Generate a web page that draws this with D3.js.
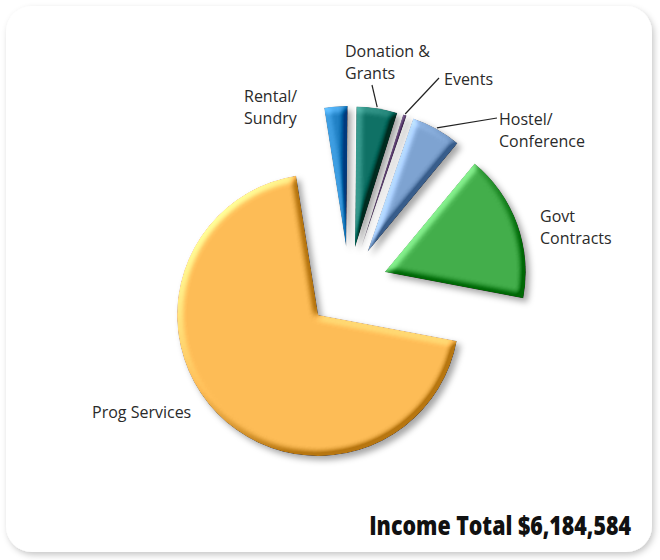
<!DOCTYPE html>
<html>
<head>
<meta charset="utf-8">
<script src="https://cdn.jsdelivr.net/npm/d3@7"></script>
<style>
    body { margin: 0; background: #fff; }
    text { font-family: "Open Sans", "Noto Sans", sans-serif; }
</style>
</head>
<body>
<div id="chart"></div>
<script>
// income by source, clockwise from 12 o'clock
const categories = ["Donation & Grants", "Events", "Hostel/Conference", "Govt Contracts", "Prog Services", "Rental/Sundry"];
const values = [290000, 25000, 355000, 1050000, 4300000, 164584];
const labelLines = [["Donation &", "Grants"], ["Events"], ["Hostel/", "Conference"], ["Govt", "Contracts"], ["Prog Services"], ["Rental/", "Sundry"]];
const totalText = "Income Total $6,184,584";

const colors = ["#0f7165", "#5a3d6e", "#7ea3d1", "#43ae4b", "#fdbc56", "#2080c4"];

// label anchor (x, first baseline), leader end, and slice explode distance
const layout = [
    { x: 345, y: 57, leader: [372, 85], explode: 38 },
    { x: 444, y: 85, leader: [439, 78], explode: 38 },
    { x: 499, y: 125, leader: [497, 118], explode: 38 },
    { x: 540, y: 222, leader: null, explode: 38 },
    { x: 92, y: 418, leader: null, explode: 43 },
    { x: 244, y: 102, leader: null, explode: 38 }
];

const width = 660, height = 560;
const cx = 349, cy = 285, radius = 141;

const svg = d3.select("#chart")
    .append("svg")
    .attr("width", width)
    .attr("height", height);

const defs = svg.append("defs");

// card shadow
const cardF = defs.append("filter").attr("id", "card")
    .attr("x", "-5%").attr("y", "-5%").attr("width", "110%").attr("height", "110%");
cardF.append("feDropShadow")
    .attr("dx", 2).attr("dy", 3).attr("stdDeviation", 3)
    .attr("flood-color", "#000").attr("flood-opacity", 0.22);

// bevel + drop shadow for each slice
const bev = defs.append("filter").attr("id", "bevel")
    .attr("x", "-30%").attr("y", "-30%").attr("width", "160%").attr("height", "160%")
    .attr("color-interpolation-filters", "sRGB");
bev.append("feGaussianBlur").attr("in", "SourceAlpha").attr("stdDeviation", 3.5).attr("result", "blur");
bev.append("feDiffuseLighting")
    .attr("in", "blur").attr("surfaceScale", 5).attr("diffuseConstant", 1)
    .attr("lighting-color", "#fff").attr("result", "light")
    .append("feDistantLight").attr("azimuth", 225).attr("elevation", 30);
bev.append("feComposite")
    .attr("in", "SourceGraphic").attr("in2", "light").attr("operator", "arithmetic")
    .attr("k1", 0).attr("k2", 1).attr("k3", 0.55).attr("k4", -0.275).attr("result", "lit");
bev.append("feComposite").attr("in", "lit").attr("in2", "SourceAlpha").attr("operator", "in").attr("result", "bev");
bev.append("feGaussianBlur").attr("in", "SourceAlpha").attr("stdDeviation", 3).attr("result", "sb");
bev.append("feOffset").attr("in", "sb").attr("dx", 4).attr("dy", 4).attr("result", "so");
bev.append("feFlood").attr("flood-color", "#000").attr("flood-opacity", 0.35);
bev.append("feComposite").attr("in2", "so").attr("operator", "in").attr("result", "shadow");
const merge = bev.append("feMerge");
merge.append("feMergeNode").attr("in", "shadow");
merge.append("feMergeNode").attr("in", "bev");

svg.append("rect")
    .attr("x", 6).attr("y", 6)
    .attr("width", 646).attr("height", 546)
    .attr("rx", 26)
    .attr("fill", "#fff")
    .attr("filter", "url(#card)");

const data = categories.map((c, i) => ({ name: c, value: values[i], i }));

const pie = d3.pie()
    .sort(null)
    .value(d => d.value)
    .startAngle(0.01)
    .endAngle(0.01 + 2 * Math.PI);

const arc = d3.arc().innerRadius(0).outerRadius(radius);

const arcs = pie(data);

const g = svg.append("g")
    .attr("transform", "translate(" + cx + "," + cy + ")");

function offset(d) {
    const a = (d.startAngle + d.endAngle) / 2;
    const e = layout[d.data.i].explode;
    return [Math.sin(a) * e, -Math.cos(a) * e];
}

g.selectAll("path.slice")
    .data(arcs)
    .join("path")
    .attr("class", "slice")
    .attr("d", arc)
    .attr("fill", d => colors[d.data.i])
    .attr("filter", "url(#bevel)")
    .attr("transform", d => {
        const o = offset(d);
        return "translate(" + o[0] + "," + o[1] + ")";
    });

// leader lines from the slice rim to the label
g.selectAll("line.leader")
    .data(arcs.filter(d => layout[d.data.i].leader))
    .join("line")
    .attr("class", "leader")
    .attr("x1", d => {
        const a = (d.startAngle + d.endAngle) / 2;
        return offset(d)[0] + Math.sin(a) * (radius + 1);
    })
    .attr("y1", d => {
        const a = (d.startAngle + d.endAngle) / 2;
        return offset(d)[1] - Math.cos(a) * (radius + 1);
    })
    .attr("x2", d => layout[d.data.i].leader[0] - cx)
    .attr("y2", d => layout[d.data.i].leader[1] - cy)
    .attr("stroke", "#222")
    .attr("stroke-width", 1.2);

const labels = svg.selectAll("text.label")
    .data(data)
    .join("text")
    .attr("class", "label")
    .attr("x", d => layout[d.i].x)
    .attr("y", d => layout[d.i].y)
    .attr("font-size", 16)
    .attr("fill", "#2a2a2a");

labels.selectAll("tspan")
    .data(d => labelLines[d.i].map(t => ({ t, x: layout[d.i].x })))
    .join("tspan")
    .attr("x", d => d.x)
    .attr("dy", (d, j) => j === 0 ? 0 : 22)
    .text(d => d.t);

// condensed heavy total: squeeze horizontally to the reference width
const total = svg.append("g").attr("transform", "translate(631,535)");
const totalNode = total.append("text")
    .attr("text-anchor", "end")
    .attr("font-size", 27)
    .attr("font-weight", 800)
    .attr("fill", "#111")
    .text(totalText);
const w = totalNode.node().getComputedTextLength();
totalNode.attr("transform", "scale(" + (262 / w) + ",1)");
</script>
</body>
</html>
